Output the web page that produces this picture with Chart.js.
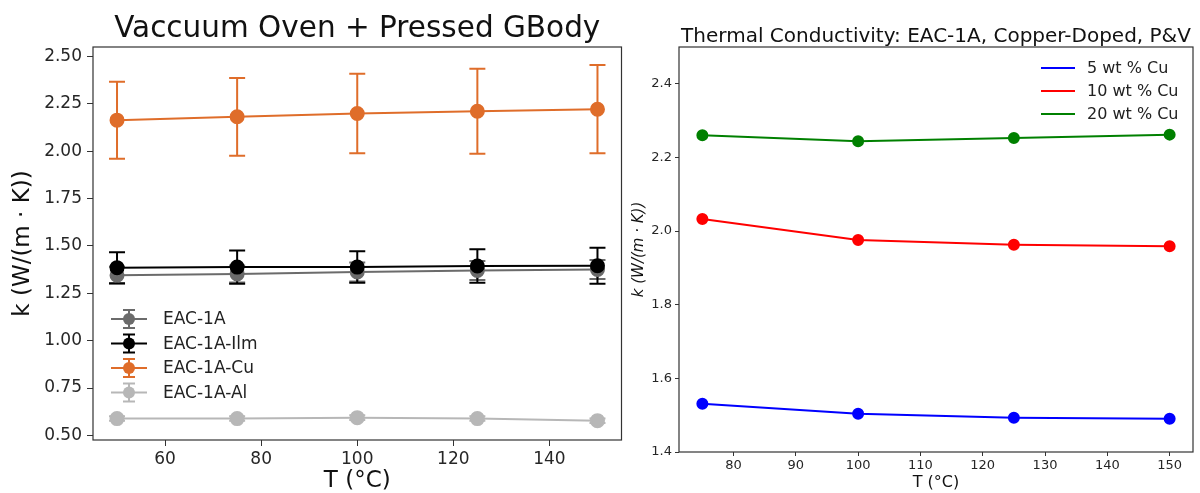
<!DOCTYPE html>
<html>
<head>
<meta charset="utf-8">
<script src="https://cdn.jsdelivr.net/npm/chart.js@4.4.0/dist/chart.umd.min.js"></script>
<style>
  html, body { margin: 0; padding: 0; background: #fff; }
  #wrap { position: relative; width: 1200px; height: 493px; overflow: hidden; }
  canvas { position: absolute; top: 0; }
  #left { left: 0; }
  #right { left: 630px; }
</style>
</head>
<body>
<div id="wrap">
  <canvas id="left" width="630" height="493"></canvas>
  <canvas id="right" width="570" height="493"></canvas>
</div>
<script>
// left chart : vacuum oven + pressed GBody (with error bars)
const tempsLeft = [50, 75, 100, 125, 150];
const kEac = [1.345, 1.352, 1.362, 1.370, 1.375];
const errEac = [0.045, 0.045, 0.05, 0.05, 0.05];
const kIlm = [1.385, 1.388, 1.388, 1.394, 1.395];
const errIlm = [0.082, 0.088, 0.083, 0.088, 0.095];
const kCu = [2.163, 2.181, 2.198, 2.21, 2.221];
const errCu = [0.203, 0.205, 0.21, 0.224, 0.233];
const kAl = [0.589, 0.589, 0.594, 0.589, 0.578];
const errAl = [0.012, 0.012, 0.012, 0.012, 0.012];
const leftXTicks = [60, 80, 100, 120, 140];
const leftYTicks = [0.5, 0.75, 1.0, 1.25, 1.5, 1.75, 2.0, 2.25, 2.5];

// right chart : copper doped, P&V
const tempsRight = [75, 100, 125, 150];
const kCu5 = [1.531, 1.504, 1.493, 1.490];
const kCu10 = [2.033, 1.976, 1.963, 1.959];
const kCu20 = [2.260, 2.244, 2.253, 2.262];
const rightXTicks = [80, 90, 100, 110, 120, 130, 140, 150];
const rightYTicks = [1.4, 1.6, 1.8, 2.0, 2.2, 2.4];

const FONT = "'DejaVu Sans', sans-serif";
const pts = (xs, ys) => xs.map((x, i) => ({ x: x, y: ys[i] }));

// error bars, drawn under the lines/markers
const errorBars = {
  id: "errorBars",
  beforeDatasetsDraw(chart) {
    const { ctx, scales } = chart;
    chart.data.datasets.forEach((ds) => {
      if (!ds.errors) return;
      ctx.save();
      ctx.strokeStyle = ds.borderColor;
      ctx.lineWidth = 2;
      ds.data.forEach((p, i) => {
        const px = scales.x.getPixelForValue(p.x);
        const top = scales.y.getPixelForValue(p.y + ds.errors[i]);
        const bot = scales.y.getPixelForValue(p.y - ds.errors[i]);
        ctx.beginPath();
        ctx.moveTo(px, top);
        ctx.lineTo(px, bot);
        ctx.moveTo(px - 8, top);
        ctx.lineTo(px + 8, top);
        ctx.moveTo(px - 8, bot);
        ctx.lineTo(px + 8, bot);
        ctx.stroke();
      });
      ctx.restore();
    });
  },
};

// frame + title + legend (matplotlib style)
const decor = {
  id: "decor",
  afterDraw(chart, args, opts) {
    const { ctx, chartArea: a } = chart;
    ctx.save();
    ctx.strokeStyle = "#333";
    ctx.lineWidth = 1.2;
    ctx.strokeRect(a.left, a.top, a.right - a.left, a.bottom - a.top);

    ctx.fillStyle = "#111";
    ctx.font = opts.titleSize + "px " + FONT;
    ctx.textAlign = "center";
    ctx.textBaseline = "alphabetic";
    ctx.fillText(opts.title, (a.left + a.right) / 2, opts.titleY);

    const lg = opts.legend;
    ctx.font = lg.size + "px " + FONT;
    ctx.textAlign = "left";
    ctx.textBaseline = "middle";
    chart.data.datasets.forEach((ds, i) => {
      const y = lg.y + i * lg.gap;
      const xm = (lg.x0 + lg.x1) / 2;
      ctx.strokeStyle = ds.borderColor;
      ctx.fillStyle = ds.borderColor;
      ctx.lineWidth = 2;
      ctx.beginPath();
      ctx.moveTo(lg.x0, y);
      ctx.lineTo(lg.x1, y);
      if (lg.errBar) {
        ctx.moveTo(xm, y - 9);
        ctx.lineTo(xm, y + 9);
        ctx.moveTo(xm - 6, y - 9);
        ctx.lineTo(xm + 6, y - 9);
        ctx.moveTo(xm - 6, y + 9);
        ctx.lineTo(xm + 6, y + 9);
      }
      ctx.stroke();
      if (lg.marker) {
        ctx.beginPath();
        ctx.arc(xm, y, lg.marker, 0, Math.PI * 2);
        ctx.fill();
      }
      ctx.fillStyle = "#222";
      ctx.fillText(ds.label, lg.tx, y + 1);
    });
    ctx.restore();
  },
};

function lineSet(label, xs, ys, color, radius, extra) {
  return Object.assign(
    {
      label: label,
      data: pts(xs, ys),
      borderColor: color,
      backgroundColor: color,
      pointBackgroundColor: color,
      pointBorderColor: color,
      borderWidth: 2,
      pointRadius: radius,
      pointHoverRadius: radius,
      tension: 0,
    },
    extra || {}
  );
}

function scaleX(min, max, ticks, fontSize, tickLen, pad, height, titleSize, titlePad) {
  return {
    type: "linear",
    min: min,
    max: max,
    afterBuildTicks: (s) => { s.ticks = ticks.map((v) => ({ value: v })); },
    afterFit: (s) => { s.height = height; },
    grid: { display: true, drawOnChartArea: false, drawTicks: true, tickLength: tickLen, color: "#333", tickWidth: 1 },
    border: { display: false },
    ticks: { font: { family: FONT, size: fontSize }, color: "#262626", padding: pad, maxRotation: 0 },
    title: { display: true, text: "T (°C)", color: "#111", font: { family: FONT, size: titleSize, lineHeight: 1 }, padding: { top: 0, bottom: titlePad } },
  };
}

function scaleY(min, max, ticks, digits, fontSize, tickLen, pad, width, titleSize, titlePad, italic) {
  return {
    type: "linear",
    min: min,
    max: max,
    afterBuildTicks: (s) => { s.ticks = ticks.map((v) => ({ value: v })); },
    afterFit: (s) => { s.width = width; },
    grid: { display: true, drawOnChartArea: false, drawTicks: true, tickLength: tickLen, color: "#333", tickWidth: 1 },
    border: { display: false },
    ticks: { font: { family: FONT, size: fontSize }, color: "#262626", padding: pad, callback: (v) => Number(v).toFixed(digits) },
    title: { display: true, text: "k (W/(m · K))", color: "#111", font: { family: FONT, size: titleSize, lineHeight: 1, style: italic ? "italic" : "normal" }, padding: { top: titlePad, bottom: 0 } },
  };
}

new Chart(document.getElementById("left"), {
  type: "line",
  data: {
    datasets: [
      lineSet("EAC-1A", tempsLeft, kEac, "#6b6b6b", 6.5, { errors: errEac, order: 4 }),
      lineSet("EAC-1A-Ilm", tempsLeft, kIlm, "#000000", 6.5, { errors: errIlm, order: 3 }),
      lineSet("EAC-1A-Cu", tempsLeft, kCu, "#df6d2a", 6.5, { errors: errCu, order: 2 }),
      lineSet("EAC-1A-Al", tempsLeft, kAl, "#b7b7b7", 6.5, { errors: errAl, order: 1 }),
    ],
  },
  options: {
    responsive: false,
    animation: false,
    layout: { padding: { top: 47, right: 7, left: 0, bottom: 0 } },
    scales: {
      x: scaleX(45, 155, leftXTicks, 17, 6, 3, 53, 23, 0),
      y: scaleY(0.476, 2.549, leftYTicks, 2, 17, 6, 5, 93, 23, 12, false),
    },
    plugins: {
      legend: { display: false },
      tooltip: { enabled: false },
      decor: {
        title: "Vaccuum Oven + Pressed GBody",
        titleSize: 29.5,
        titleY: 37,
        legend: { x0: 111, x1: 147, tx: 163, y: 319, gap: 24.5, size: 17, marker: 6, errBar: true },
      },
    },
  },
  plugins: [errorBars, decor],
});

new Chart(document.getElementById("right"), {
  type: "line",
  data: {
    datasets: [
      lineSet("5 wt % Cu", tempsRight, kCu5, "#0000ff", 5),
      lineSet("10 wt % Cu", tempsRight, kCu10, "#ff0000", 5),
      lineSet("20 wt % Cu", tempsRight, kCu20, "#008000", 5),
    ],
  },
  options: {
    responsive: false,
    animation: false,
    layout: { padding: { top: 47, right: 5, left: 0, bottom: 0 } },
    scales: {
      x: scaleX(71.25, 153.75, rightXTicks, 13, 4, 2, 41, 16, 2),
      y: scaleY(1.4, 2.5, rightYTicks, 1, 13, 4, 3, 49, 15, 2, true),
    },
    plugins: {
      legend: { display: false },
      tooltip: { enabled: false },
      decor: {
        title: "Thermal Conductivity: EAC-1A, Copper-Doped, P&V",
        titleSize: 20,
        titleY: 42,
        legend: { x0: 411, x1: 445, tx: 457, y: 68, gap: 23, size: 16, marker: 0, errBar: false },
      },
    },
  },
  plugins: [errorBars, decor],
});
</script>
</body>
</html>
